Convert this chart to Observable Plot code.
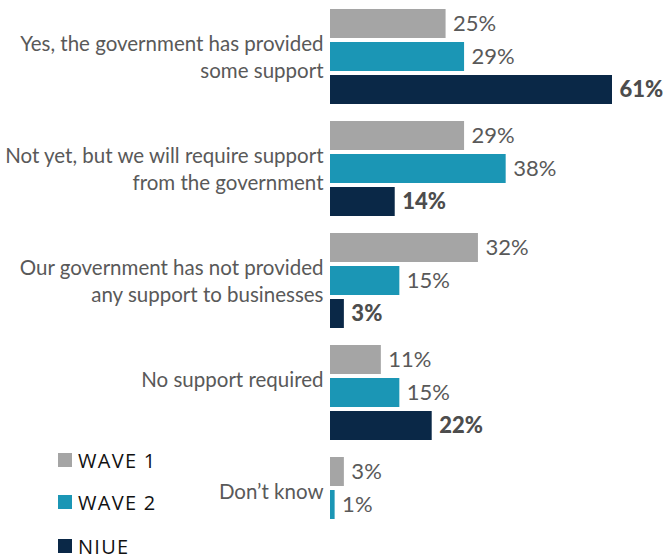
<!DOCTYPE html>
<html>
<head>
<meta charset="utf-8">
<script src="https://cdn.jsdelivr.net/npm/d3@7"></script>
<script src="https://cdn.jsdelivr.net/npm/@observablehq/plot@0.6"></script>
<style>
  html, body { margin: 0; padding: 0; background: #fff; }
  #wrap { position: relative; width: 664px; height: 558px; overflow: hidden; }
  #legend { position: absolute; left: 58px; top: 0; font-family: "Open Sans", "Noto Sans", sans-serif; font-size: 20px; letter-spacing: 1.3px; color: #111; }
  .item { position: absolute; left: 0; white-space: nowrap; display: flex; align-items: center; }
  .sw { width: 14px; height: 14px; margin-right: 6px; display: inline-block; }
</style>
</head>
<body>
<div id="wrap"><div id="legend"></div></div>
<script>
const categories = [
  "Yes, the government has provided\nsome support",
  "Not yet, but we will require support\nfrom the government",
  "Our government has not provided\nany support to businesses",
  "No support required",
  "Don\u2019t know"
];
const series = ["WAVE 1", "WAVE 2", "NIUE"];
const colors = ["#A5A5A5", "#1B96B5", "#0A2847"];
const wave1 = [25, 29, 32, 11, 3];
const wave2 = [29, 38, 15, 15, 1];
const niue = [61, 14, 3, 22, null];

const values = [wave1, wave2, niue];
const rows = [];
categories.forEach((c, i) => {
  series.forEach((s, j) => {
    const v = values[j][i];
    if (v != null) rows.push({category: c, series: s, value: v});
  });
});
const labelRows = categories.map(c => ({category: c}));
const waveRows = rows.filter(d => d.series !== "NIUE");
const niueRows = rows.filter(d => d.series === "NIUE");

const font = "Lato, 'Open Sans', sans-serif";

const chart = Plot.plot({
  width: 664,
  height: 558,
  marginTop: 4,
  marginBottom: 0,
  marginLeft: 330,
  marginRight: 52,
  style: {fontFamily: font, background: "transparent"},
  x: {domain: [0, 61], axis: null},
  y: {domain: series, padding: 0.12, axis: null},
  fy: {domain: categories, paddingInner: 0.071, paddingOuter: 0, axis: null},
  color: {domain: series, range: colors},
  marks: [
    Plot.barX(rows, {x: "value", y: "series", fy: "category", fill: "series"}),
    Plot.text(waveRows, {
      x: "value", y: "series", fy: "category",
      text: d => d.value + "%",
      textAnchor: "start", dx: 7,
      fontSize: 22,
      fill: "#595959"
    }),
    Plot.text(niueRows, {
      x: "value", y: "series", fy: "category",
      text: d => d.value + "%",
      textAnchor: "start", dx: 7,
      fontSize: 22,
      fontWeight: 900,
      fill: "#4d4d4d"
    }),
    Plot.text(labelRows, {
      fy: "category",
      text: "category",
      frameAnchor: "left",
      textAnchor: "end",
      lineAnchor: "top",
      lineHeight: 1.32,
      dx: -7, dy: -26,
      fontSize: 20.5,
      fill: "#595959"
    })
  ]
});
document.getElementById("wrap").prepend(chart);
chart.style.position = "absolute";
chart.style.left = "0";
chart.style.top = "0";

const legend = document.getElementById("legend");
const legendY = [460, 502, 546];
series.forEach((s, i) => {
  const el = document.createElement("div");
  el.className = "item";
  el.style.top = (legendY[i] - 14) + "px";
  el.style.height = "28px";
  el.innerHTML = `<span class="sw" style="background:${colors[i]}"></span><span>${s}</span>`;
  legend.appendChild(el);
});
</script>
</body>
</html>
